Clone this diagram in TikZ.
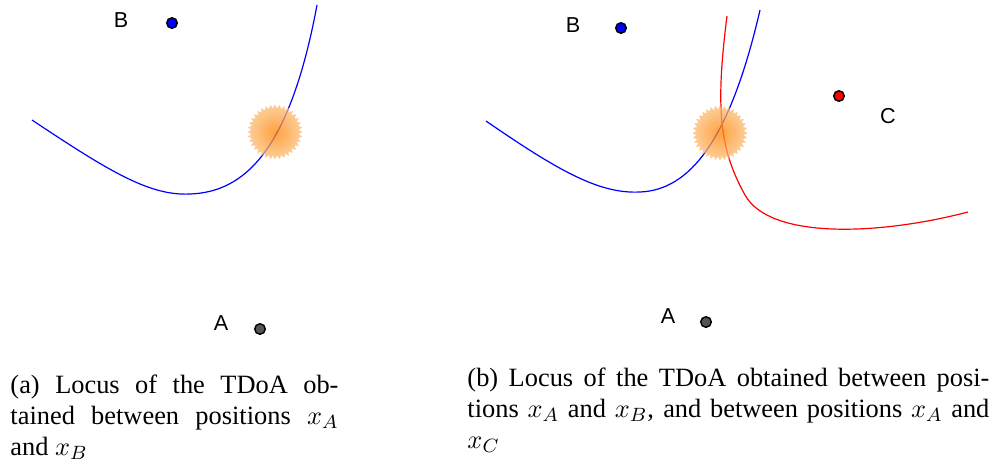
\documentclass[tikz,border=0pt]{standalone}
\usepackage{fontspec}
\setmainfont{Liberation Serif}
\newfontfamily\sensorfont{Liberation Sans}
\usetikzlibrary{shapes.symbols}
\definecolor{glowcore}{RGB}{255, 130, 0}
\definecolor{glowmid}{RGB}{252, 180, 100}
\definecolor{glowedge}{RGB}{254, 226, 192}
\definecolor{sensorgray}{RGB}{85, 85, 85}
\pgfdeclareradialshading{tdoaglow}{\pgfpoint{0bp}{0bp}}{color(0bp)=(glowcore); color(20bp)=(glowmid); color(50bp)=(glowedge)}

\begin{document}
\begin{tikzpicture}[
  x=0.4167pt, y=-0.4167pt,
  sensor/.style={circle, draw=black, line width=0.6pt, minimum size=4.4pt, inner sep=0pt},
  lbl/.style={font=\sensorfont\fontsize{9}{10}\selectfont, inner sep=0pt},
  locus/.style={line width=0.5pt},
  glow/.style={starburst, random starburst=0, starburst points=36, starburst point height=1.6pt, minimum size=23pt, inner sep=0pt, shade, shading=tdoaglow, fill opacity=0.75},
  captxt/.style={align=justify, inner sep=0pt, anchor=north west, font=\fontsize{11}{13}\selectfont}
]
  \useasboundingbox (0,0) rectangle (995,466);

  % (a) locus between A and B
  \draw[locus, blue] (32,120) .. controls (110,172) and (150,196) .. (190,194)
    .. controls (245,192) and (290,150) .. (317,5);
  \node[glow] (fixa) at (275,132) {};
  \node[sensor, fill=blue] (ba) at (172,23) {};
  \node[lbl] (bla) at (121,20) {B};
  \node[sensor, fill=sensorgray] (aa) at (260,329) {};
  \node[lbl] (ala) at (221,323) {A};
  \node[captxt, text width=136.7pt] (capa) at (10,374) {(a) Locus of the TDoA ob-\linebreak tained between positions $x_A$\linebreak and $x_B$};

  % (b) loci between A and B, A and C
  \draw[locus, blue] (486,121) .. controls (560,172) and (600,194) .. (640,192)
    .. controls (690,190) and (730,140) .. (760,10);
  \draw[locus, red] (727,16) .. controls (715,110) and (720,150) .. (745,195)
    .. controls (770,240) and (880,235) .. (968,212);
  \node[glow] (fixb) at (720,133) {};
  \node[sensor, fill=blue] (bb) at (621,28) {};
  \node[lbl] (blb) at (573,25) {B};
  \node[sensor, fill=red] (cb) at (839,96) {};
  \node[lbl] (clb) at (888,116) {C};
  \node[sensor, fill=sensorgray] (ab) at (706,322) {};
  \node[lbl] (alb) at (668,316) {A};
  \node[captxt, text width=217.5pt] (capb) at (467,367) {(b) Locus of the TDoA obtained between posi-\linebreak tions $x_A$ and $x_B$, and between positions $x_A$ and\linebreak $x_C$};
\end{tikzpicture}
\end{document}
